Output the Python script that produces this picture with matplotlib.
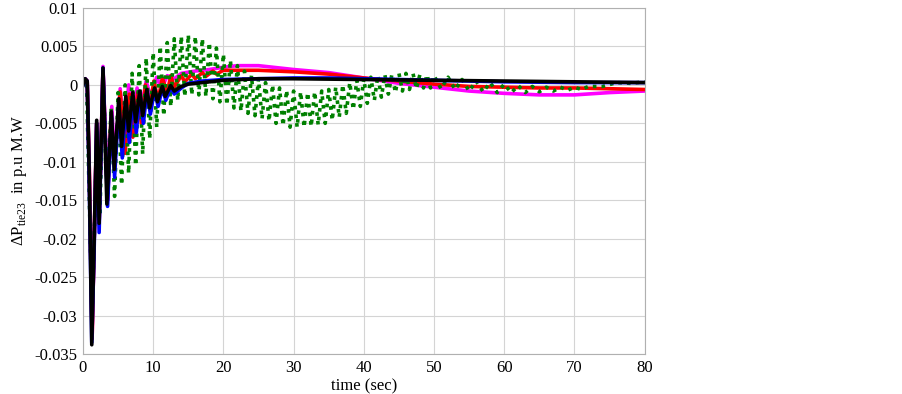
import numpy as np
import matplotlib
matplotlib.use('Agg')
import matplotlib.pyplot as plt
from matplotlib.ticker import FuncFormatter

plt.rcParams['font.family'] = ['Liberation Serif', 'DejaVu Serif']
plt.rcParams['mathtext.fontset'] = 'custom'
plt.rcParams['mathtext.rm'] = 'Liberation Serif'
plt.rcParams['axes.unicode_minus'] = False

## Values (time in sec, deviation in p.u. MW)
black_t = [0, 0.3, 0.6, 0.9, 1.25, 1.6, 1.95, 2.3, 2.85, 3.4, 4.05, 4.45, 5.1, 5.5, 6.1, 6.5,
           7.1, 7.5, 8.1, 8.5, 9.1, 9.5, 10.2, 10.6, 11.3, 11.7, 12.5, 13, 14, 15, 16, 18, 20,
           25, 30, 40, 50, 60, 70, 80]
black_v = [0, 0.0008, 0.0005, -0.012, -0.0338, -0.02, -0.0046, -0.018, 0.0022, -0.0155,
           -0.0035, -0.011, -0.0018, -0.008, -0.0015, -0.006, -0.001, -0.0048, -0.0008, -0.004,
           -0.0006, -0.003, -0.0004, -0.0022, -0.0002, -0.0015, -0.0001, -0.0008, -0.0002,
           0.0001, 0.0002, 0.0004, 0.0006, 0.0008, 0.0008, 0.0007, 0.0006, 0.0005, 0.0004, 0.0003]

blue_t = [0, 0.3, 0.6, 0.9, 1.25, 1.6, 1.95, 2.3, 2.85, 3.5, 4.05, 4.5, 5.1, 5.6, 6.1, 6.6,
          7.1, 7.6, 8.1, 8.6, 9.1, 9.6, 10.2, 10.7, 11.3, 11.8, 12.5, 13, 14, 15, 17, 20, 25,
          30, 35, 45, 60, 70, 80]
blue_v = [0, 0.0008, 0.0005, -0.013, -0.0335, -0.021, -0.005, -0.0192, 0.0022, -0.0158,
          -0.004, -0.012, -0.0025, -0.0095, -0.002, -0.0075, -0.0015, -0.0062, -0.001, -0.005,
          -0.0008, -0.0038, -0.0006, -0.0028, -0.0004, -0.002, -0.0002, -0.0012, -0.0004,
          0.0002, 0.0005, 0.0007, 0.0008, 0.0009, 0.0009, 0.0007, 0.0004, 0.0003, 0.0003]

red_t = [0, 0.3, 0.6, 0.9, 1.3, 1.6, 1.95, 2.3, 2.85, 3.5, 4.0, 4.5, 5.3, 6.0, 6.6, 7.1, 7.8,
         8.3, 8.9, 9.5, 10.1, 10.7, 11.3, 12, 12.5, 13, 14, 14.5, 15.5, 16, 17, 17.5, 18.5, 19,
         20, 22, 25, 30, 35, 40, 45, 50, 55, 60, 65, 70, 75, 80]
red_v = [0, 0.0008, 0.0005, -0.011, -0.033, -0.02, -0.005, -0.018, 0.002, -0.015, -0.004,
         -0.01, -0.0009, -0.0089, -0.0012, -0.0068, -0.001, -0.005, 0.0, -0.003, 0.0005,
         -0.002, 0.0009, -0.001, 0.0012, -0.0003, 0.0012, 0.0004, 0.0014, 0.0008, 0.0016,
         0.0011, 0.0018, 0.0014, 0.0019, 0.0019, 0.0019, 0.0017, 0.0014, 0.0009, 0.0005,
         0.0001, -0.0002, -0.0003, -0.0004, -0.0004, -0.0005, -0.0006]

magenta_t = [0, 0.3, 0.6, 0.9, 1.3, 1.6, 1.95, 2.3, 2.85, 3.5, 4.1, 4.5, 5.3, 5.9, 6.5, 7.1,
             7.7, 8.3, 9, 9.6, 10.5, 11.2, 12, 13, 14, 16, 18, 20, 22, 25, 30, 35, 40, 45, 50,
             55, 60, 65, 70, 75, 80]
magenta_v = [0, 0.0008, 0.0005, -0.011, -0.033, -0.02, -0.005, -0.018, 0.0024, -0.015,
             -0.0028, -0.01, -0.0005, -0.007, 0.0, -0.005, -0.0004, -0.003, 0.0005, -0.0015,
             0.001, -0.0005, 0.0012, 0.0008, 0.0015, 0.0018, 0.002, 0.0023, 0.0025, 0.0025,
             0.002, 0.0016, 0.0009, 0.0002, -0.0003, -0.0008, -0.0011, -0.0013, -0.0013,
             -0.001, -0.0008]

## Green: fast oscillation, peaks (upper envelope) and troughs (lower envelope)
green_start_t = [0, 0.5, 1.3, 2.0, 2.4, 2.9, 3.5]
green_start_v = [0, 0.0005, -0.03, -0.006, -0.017, 0.0, -0.0145]
green_up_t = [4, 5, 6, 7, 8, 9, 10, 11, 12, 13, 14, 15, 16, 17, 18, 19, 20, 21, 22, 23, 24,
              25, 26, 27, 28, 29, 30, 31, 32, 33, 34, 35, 36, 37, 38, 39, 40, 41, 42, 43, 44,
              45, 46, 47, 48, 49, 50, 52, 54, 56, 58, 60, 62, 64, 66, 68, 70, 72, 76, 80]
green_up_v = [-0.003, -0.001, 0.0, 0.0015, 0.0025, 0.0035, 0.0042, 0.005, 0.0055, 0.006,
              0.0063, 0.0065, 0.0063, 0.006, 0.0055, 0.0048, 0.004, 0.0032, 0.0025, 0.0018,
              0.0012, 0.0008, 0.0003, 0.0, -0.0004, -0.0007, -0.0008, -0.0009, -0.001, -0.0009,
              -0.0008, -0.0006, -0.0003, 0.0, 0.0003, 0.0006, 0.0008, 0.001, 0.0012, 0.0013,
              0.0014, 0.0015, 0.0015, 0.0015, 0.0014, 0.0013, 0.0012, 0.001, 0.0007, 0.0005,
              0.0003, 0.0001, -0.0001, -0.0002, -0.0003, -0.0003, -0.0003, -0.0002, 0.0003,
              0.0004]
green_lo_t = [4.5, 5.5, 6.5, 7.5, 8.5, 9.5, 10.5, 11.5, 12.5, 13.5, 14.5, 15.5, 16.5, 17.5,
              18.5, 19.5, 20.5, 21.5, 22.5, 23.5, 24.5, 25.5, 26.5, 27.5, 28.5, 29.5, 30.5,
              31.5, 32.5, 33.5, 34.5, 35.5, 36.5, 37.5, 38.5, 39.5, 40.5, 41.5, 42.5, 43.5,
              44.5, 45.5, 46.5, 47.5, 48.5, 49.5, 51, 53, 55, 57, 59, 61, 63, 65, 67, 69, 71,
              74, 78]
green_lo_v = [-0.0145, -0.013, -0.0115, -0.0105, -0.009, -0.007, -0.0055, -0.004, -0.0028,
              -0.002, -0.0015, -0.0013, -0.0013, -0.0015, -0.0018, -0.0022, -0.0026, -0.003,
              -0.0034, -0.0037, -0.004, -0.0044, -0.0047, -0.005, -0.0053, -0.0055, -0.0055,
              -0.0055, -0.0054, -0.0052, -0.005, -0.0046, -0.0042, -0.0037, -0.0032, -0.0028,
              -0.0024, -0.002, -0.0016, -0.0012, -0.001, -0.0008, -0.0006, -0.0005, -0.0004,
              -0.0004, -0.0005, -0.0006, -0.0008, -0.0009, -0.001, -0.001, -0.001, -0.0009,
              -0.0008, -0.0007, -0.0006, -0.0002, 0.0002]

xticks = [0, 10, 20, 30, 40, 50, 60, 70, 80]
yticks = [0.01, 0.005, 0, -0.005, -0.01, -0.015, -0.02, -0.025, -0.03, -0.035]

## merge green peaks and troughs in time order
gt = np.array(green_start_t + green_up_t + green_lo_t)
gv = np.array(green_start_v + green_up_v + green_lo_v)
order = np.argsort(gt)
gt, gv = gt[order], gv[order]

fig = plt.figure(figsize=(9.03, 3.94), dpi=100)
ax = fig.add_axes([0.0919, 0.1015, 0.622, 0.8782])

ax.plot(magenta_t, magenta_v, color='#ff00ff', lw=2.6)
ax.plot(red_t, red_v, color='#ff0000', lw=2.6)
ax.plot(gt, gv, color='#008000', lw=2.6, linestyle=(0, (1, 1.4)))
ax.plot(blue_t, blue_v, color='#0000ff', lw=2.6)
ax.plot(black_t, black_v, color='black', lw=2.6)

ax.set_xlim(0, 80)
ax.set_ylim(-0.035, 0.01)
ax.set_xticks(xticks)
ax.set_yticks(yticks)
ax.yaxis.set_major_formatter(FuncFormatter(lambda v, p: '%g' % round(v, 4)))
ax.grid(True, color='#d4d4d4', lw=0.8)
ax.tick_params(length=0, labelsize=12, pad=4)
for sp in ax.spines.values():
    sp.set_color('#b0b0b0')
    sp.set_linewidth(0.8)

ax.set_xlabel('time (sec)', fontsize=12, labelpad=2)
ax.set_ylabel(r'$\Delta$P$_{\mathrm{tie23}}$  in p.u M.W', fontsize=12, labelpad=4)

plt.savefig('out.png', dpi=100)
